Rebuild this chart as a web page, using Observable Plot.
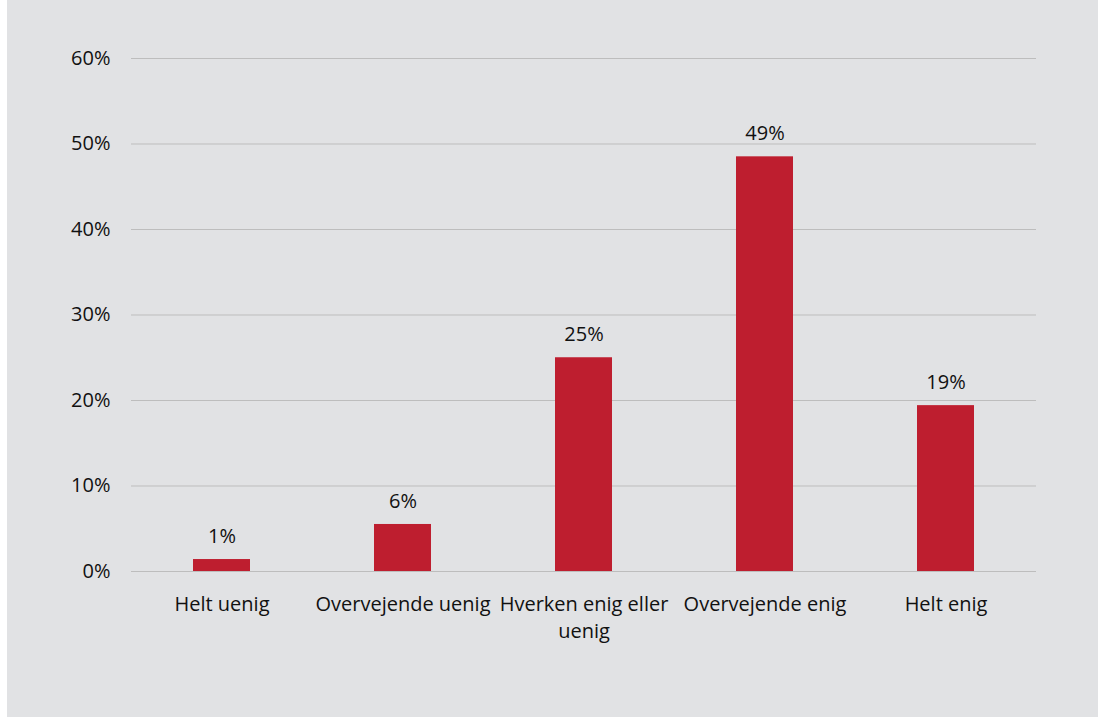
<!DOCTYPE html>
<html>
<head>
<meta charset="utf-8">
<script src="https://cdn.jsdelivr.net/npm/d3@7"></script>
<script src="https://cdn.jsdelivr.net/npm/@observablehq/plot@0.6"></script>
<style>
  html, body { margin: 0; padding: 0; background: #ffffff; }
  #chart { position: absolute; left: 7px; top: 0; width: 1091px; height: 717px; background: #e1e2e4; }
</style>
</head>
<body>
<div id="chart"></div>
<script>
const categories = ["Helt uenig", "Overvejende uenig", "Hverken enig eller uenig", "Overvejende enig", "Helt enig"];
const categoryLabels = ["Helt uenig", "Overvejende uenig", "Hverken enig eller\nuenig", "Overvejende enig", "Helt enig"];
const values = [0.014, 0.055, 0.250, 0.485, 0.194];
const valueLabels = ["1%", "6%", "25%", "49%", "19%"];
const yTicks = [0, 0.1, 0.2, 0.3, 0.4, 0.5, 0.6];

const data = categories.map((c, i) => ({category: c, value: values[i], label: valueLabels[i]}));
const labelOf = new Map(categories.map((c, i) => [c, categoryLabels[i]]));

const chart = Plot.plot({
  width: 1091,
  height: 717,
  marginLeft: 124,
  marginRight: 62,
  marginTop: 58,
  marginBottom: 146,
  style: {
    background: "#e1e2e4",
    fontFamily: "'Open Sans', 'Noto Sans', sans-serif",
    fontSize: "20px",
    color: "#111111"
  },
  x: {domain: categories, padding: 0, label: null},
  y: {domain: [0, 0.6], label: null},
  marks: [
    Plot.gridY(yTicks, {stroke: "#bdbdbd", strokeOpacity: 1, strokeWidth: 1}),
    Plot.barY(data, {x: "category", y: "value", fill: "#be1e2f", insetLeft: 62, insetRight: 62}),
    Plot.text(data, {x: "category", y: "value", text: "label", dy: -23, fill: "#111111", fontSize: 20}),
    Plot.axisY({ticks: yTicks, tickFormat: d => Math.round(d * 100) + "%", tickSize: 0, tickPadding: 21, fontSize: 20, fill: "#111111", label: null}),
    Plot.axisX({tickFormat: d => labelOf.get(d), tickSize: 0, tickPadding: 20, fontSize: 20, fill: "#111111", lineHeight: 1.35, label: null})
  ]
});
document.getElementById("chart").appendChild(chart);
</script>
</body>
</html>
